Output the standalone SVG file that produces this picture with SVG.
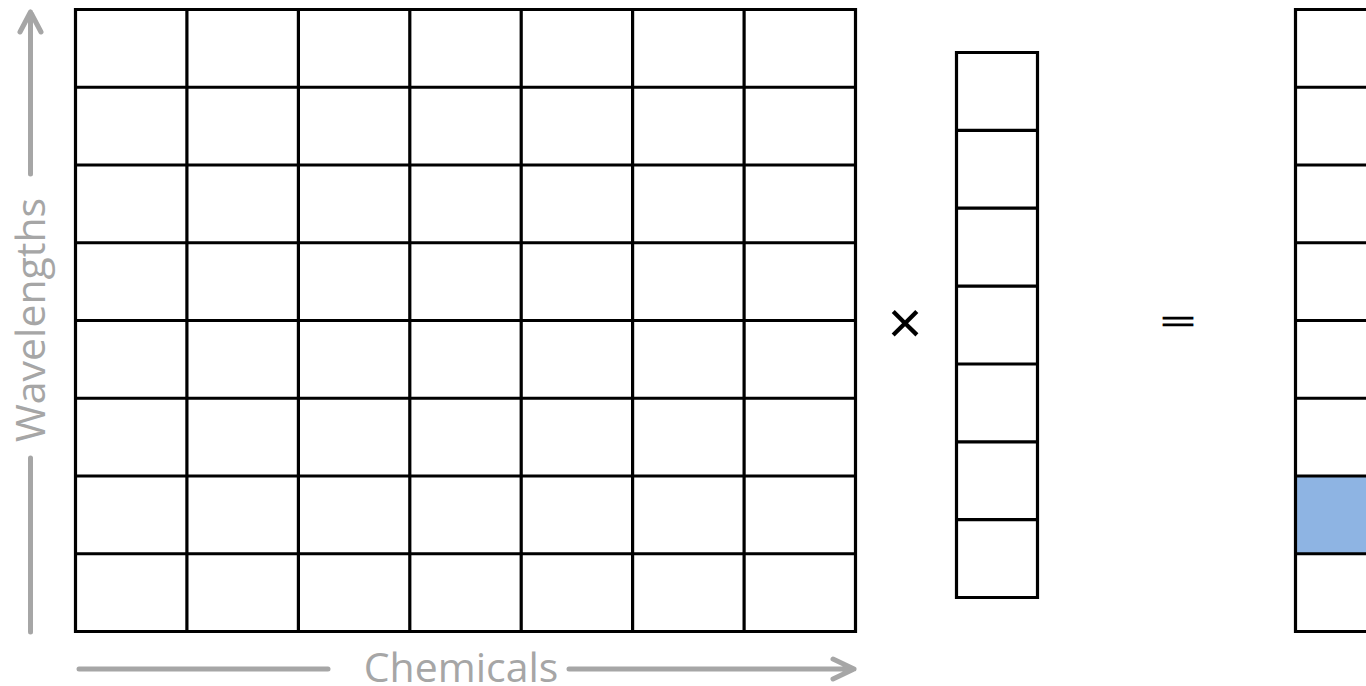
<svg xmlns="http://www.w3.org/2000/svg" width="1366" height="686" viewBox="0 0 1366 686">
<style>
.grid{fill:none;stroke:#000;stroke-width:3.2}
.ax{fill:none;stroke:#A6A6A6;stroke-width:5;stroke-linecap:round;stroke-linejoin:round}
.lbl{font-family:"Open Sans","Liberation Sans",sans-serif;fill:#A6A6A6;font-size:41px}
.op{font-family:"Liberation Sans",sans-serif;fill:#000}
</style>
<rect width="1366" height="686" fill="#fff"/>
<g id="matrix">
<path class="grid" d="M75.5 9.5H855.5V631.5H75.5Z M186.9 9.5V631.5 M298.4 9.5V631.5 M409.8 9.5V631.5 M521.2 9.5V631.5 M632.6 9.5V631.5 M744.1 9.5V631.5 M75.5 87.25H855.5 M75.5 165H855.5 M75.5 242.75H855.5 M75.5 320.5H855.5 M75.5 398.25H855.5 M75.5 476H855.5 M75.5 553.75H855.5"/>
</g>
<g id="vector">
<path class="grid" d="M956.5 52.5H1039 M956.5 130.4H1039 M956.5 208.2H1039 M956.5 286.1H1039 M956.5 364H1039 M956.5 441.8H1039 M956.5 519.7H1039 M956.5 597.5H1039 M956.5 51V599 M1037.5 51V599"/>
</g>
<g id="result">
<rect x="1295.5" y="476" width="72" height="77.75" fill="#8EB4E3"/>
<path class="grid" d="M1295.5 8V633 M1294 9.5H1368 M1294 87.25H1368 M1294 165H1368 M1294 242.75H1368 M1294 320.5H1368 M1294 398.25H1368 M1294 476H1368 M1294 553.75H1368 M1294 631.5H1368"/>
</g>
<g id="operators">
<text class="op" x="905" y="343" font-size="60" text-anchor="middle">×</text>
<text class="op" transform="translate(1178 322) scale(1 0.45)" y="20.7" font-size="60" text-anchor="middle" stroke="#000" stroke-width="1.6">=</text>
</g>
<g id="connectors">
<path class="ax" d="M30.5 174V12 M20 32L30.5 12L41 32"/>
<path class="ax" d="M30.5 458V632"/>
<path class="ax" d="M79 669H328"/>
<path class="ax" d="M569 669H854 M833 659L854 669L833 679"/>
</g>
<g id="labels">
<text class="lbl" x="461" y="682" text-anchor="middle">Chemicals</text>
<text class="lbl" transform="translate(45 320) rotate(-90)" text-anchor="middle">Wavelengths</text>
</g>
</svg>
